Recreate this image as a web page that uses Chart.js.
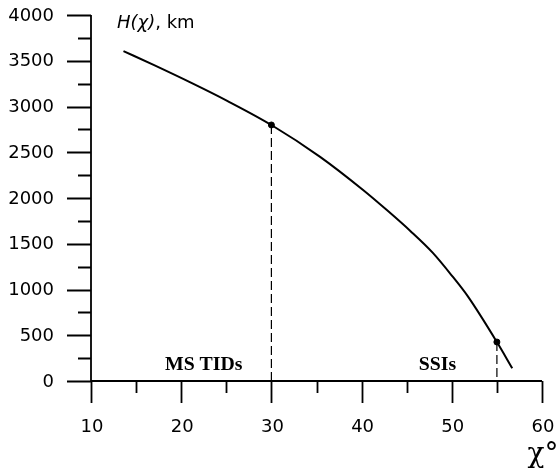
<!DOCTYPE html>
<html>
<head>
<meta charset="utf-8">
<script src="https://cdn.jsdelivr.net/npm/chart.js@4/dist/chart.umd.min.js"></script>
<style>
  html, body { margin: 0; padding: 0; background: #fff; }
  #wrap { width: 560px; height: 468px; }
</style>
</head>
<body>
<div id="wrap"><canvas id="chart"></canvas></div>
<script>
"use strict";

// curve H(chi)
const chiValues = [13.6, 17, 21.3, 25.1, 30, 35.4, 40.2, 42.8, 45.4, 47.9, 50.1, 51.8, 55, 56.7];
const heightValues = [3606, 3452, 3250, 3062, 2798, 2450, 2085, 1868, 1640, 1400, 1140, 922, 426, 140];

// marked points
const markChi = [30, 55];
const markHeight = [2798, 426];

const xTicks = [10, 20, 30, 40, 50, 60];
const yTicks = [0, 500, 1000, 1500, 2000, 2500, 3000, 3500, 4000];

const regionLabels = ['MS TIDs', 'SSIs'];
const regionChi = [22.5, 48.4];

const TEXT_FONT = '18px "DejaVu Sans"';

function stretchText(ctx, txt, x, y, sx) {
  ctx.save();
  ctx.translate(x, y);
  ctx.scale(sx, 1);
  ctx.fillText(txt, 0, 0);
  ctx.restore();
}

const axesPlugin = {
  id: 'paperAxes',
  afterDraw(chart) {
    const ctx = chart.ctx;
    const xs = chart.scales.x;
    const ys = chart.scales.y;
    const x0 = xs.getPixelForValue(10);
    const x1 = xs.getPixelForValue(60);
    const y0 = ys.getPixelForValue(0);
    const y1 = ys.getPixelForValue(4000);

    ctx.save();
    ctx.strokeStyle = '#000';
    ctx.lineWidth = 1.8;
    ctx.beginPath();
    ctx.moveTo(x0, y1);
    ctx.lineTo(x0, y0);
    ctx.moveTo(x0, y0);
    ctx.lineTo(x1, y0);
    // y ticks, major every 500, minor at 250
    for (let v = 0; v <= 4000; v += 250) {
      const py = Math.round(ys.getPixelForValue(v)) + 0.5;
      const len = v % 500 === 0 ? 24 : 13;
      ctx.moveTo(x0 - len, py);
      ctx.lineTo(x0, py);
    }
    // x ticks, major every 10, minor at 5
    for (let v = 10; v <= 60; v += 5) {
      const px = Math.round(xs.getPixelForValue(v)) + 0.5;
      const len = v % 10 === 0 ? 22 : 12;
      ctx.moveTo(px, y0);
      ctx.lineTo(px, y0 + len);
    }
    ctx.stroke();

    ctx.fillStyle = '#000';
    ctx.font = TEXT_FONT;
    ctx.textBaseline = 'middle';
    ctx.textAlign = 'right';
    yTicks.forEach(v => {
      ctx.fillText(String(v), 54, ys.getPixelForValue(v) + 1);
    });
    ctx.textAlign = 'center';
    xTicks.forEach(v => {
      ctx.fillText(String(v), xs.getPixelForValue(v) + 1, 427);
    });

    // axis titles
    ctx.textAlign = 'left';
    ctx.textBaseline = 'alphabetic';
    ctx.font = 'italic 18px "DejaVu Sans"';
    ctx.fillText('H(\u03c7)', 117, 28);
    const w = ctx.measureText('H(\u03c7)').width;
    ctx.font = TEXT_FONT;
    ctx.fillText(', km', 117 + w, 28);

    ctx.font = '28px "DejaVu Serif"';
    ctx.textAlign = 'center';
    ctx.fillText('\u03c7\u00b0', 543, 462);

    // region labels
    ctx.font = 'bold 18px "Liberation Serif"';
    regionLabels.forEach((t, i) => {
      stretchText(ctx, t, xs.getPixelForValue(regionChi[i]), 370, 1.1);
    });
    ctx.restore();
  }
};

const curve = chiValues.map((c, i) => ({ x: c, y: heightValues[i] }));
const marks = markChi.map((c, i) => ({ x: c, y: markHeight[i] }));
const dropLines = markChi.map((c, i) => ({
  type: 'scatter',
  data: [{ x: c, y: markHeight[i] }, { x: c, y: 0 }],
  showLine: true,
  borderColor: '#000',
  borderWidth: 1.2,
  borderDash: [9, 4],
  pointRadius: 0,
}));

new Chart(document.getElementById('chart'), {
  type: 'scatter',
  data: {
    datasets: [
      {
        data: curve,
        showLine: true,
        cubicInterpolationMode: 'monotone',
        borderColor: '#000',
        borderWidth: 2,
        pointRadius: 0,
      },
      {
        data: marks,
        pointRadius: 3,
        pointBackgroundColor: '#000',
        pointBorderColor: '#000',
      },
      ...dropLines,
    ],
  },
  options: {
    responsive: true,
    maintainAspectRatio: false,
    animation: false,
    layout: { padding: { left: 91, right: 18, top: 15, bottom: 87 } },
    plugins: { legend: { display: false }, tooltip: { enabled: false } },
    scales: {
      x: { type: 'linear', min: 10, max: 60, display: false },
      y: { type: 'linear', min: 0, max: 4000, display: false },
    },
  },
  plugins: [axesPlugin],
});
</script>
</body>
</html>
